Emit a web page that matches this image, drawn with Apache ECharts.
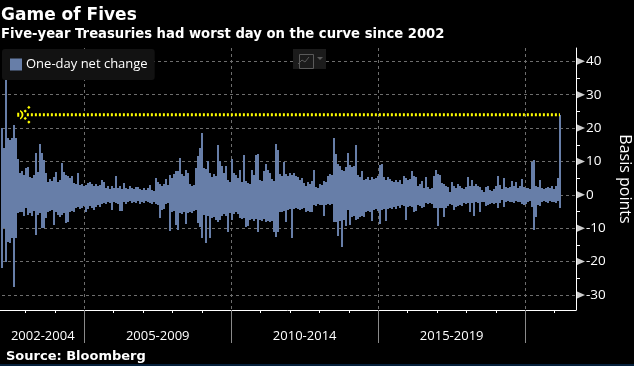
<!DOCTYPE html>
<html>
<head>
<meta charset="utf-8">
<style>html,body{margin:0;padding:0;background:#000}#c{width:634px;height:366px}</style>
<script src="https://cdn.jsdelivr.net/npm/echarts@6/dist/echarts.min.js"></script>
</head>
<body>
<div id="c"></div>
<script>
const titleText = "Game of Fives";
const subtitleText = "Five-year Treasuries had worst day on the curve since 2002";
const sourceText = "Source: Bloomberg";
const seriesName = "One-day net change";
const axisName = "Basis points";
const periodLabels = ["2002-2004", "2005-2009", "2010-2014", "2015-2019"];
const periodCentres = [2003.59, 2007.5, 2012.5, 2017.5];
const periodBreaks = [2005, 2010, 2015, 2020];
const yearTicks = [2003,2004,2006,2007,2008,2009,2011,2012,2013,2014,2016,2017,2018,2019,2021];
const majorY = [-30,-20,-10,0,10,20,30,40];
const minorY = [-25,-15,-5,5,15,25,35];
const worstDay = 24;

// Highest and lowest daily change inside each narrow slice of time
const highs = [
20,14,34.3,17,16.5,17,21,17,10.7,6.5,
7,6,8,8.2,5.4,5,5.8,12.5,6.9,15.2,
12.5,10.5,6.6,4,4.8,4.2,5.2,6.8,3.8,4.4,
9.5,6.8,5.8,5.5,5,5.6,3.5,3.2,6.5,3,
3.4,2.6,3,3.6,4,3.2,2.8,3.3,2.6,3,
4.5,3.8,2,2.6,1.8,2.7,2.2,5.5,2,2.6,
1.8,3.5,2.2,1.8,2.6,2.1,1.7,2.5,2.3,1.8,
1.6,2.2,1.5,2.1,3,1.5,1.2,5,4,3.4,
2.8,3.2,4.8,3,6,5,6.2,7.2,7,11,
6.2,5.6,7.5,6.5,3.2,2.6,3,8,11.5,14,
18.5,8,7.6,10,6.4,5.4,6.2,5.6,15,10,
8.5,6.5,8.7,4.5,4,10.8,6.5,6,5,7.5,
4,12,4.2,3.5,3.2,7.5,6,12,12.2,4.5,
4.2,7,9.2,7.5,6.5,4.8,4.2,15.3,13.5,6.2,
5.6,9.7,6.2,5.6,6.4,5.8,6.6,5.6,5.2,4.6,
5,3.5,2.8,3.8,3.2,4.2,7.5,2.5,2,3.4,
3,4.2,3.8,5.5,6.2,5.8,17,12.2,9.2,8.6,
7.4,7,8.2,12.5,8.8,8.2,8.6,15,5.8,5.2,
7,4.4,4.8,5.2,4.6,5.4,4.8,5,5.6,9,
9.2,5.2,4.6,5.4,4.8,4.2,3.8,4.4,3.8,4.6,
3.2,5.5,4.9,4.4,4.8,7,5.6,5.2,2.8,3.2,
4.2,2,5.2,2.4,1.8,2.2,5.5,7.5,6.2,6,
3.6,3.2,2.6,2.3,1,3.8,2.6,2.2,3.2,2.8,
2.2,1.8,2.4,5.2,2.7,4.5,2.8,3.2,2.6,2.3,
1.4,1,2.3,2.6,1.6,1.3,1.8,2.7,5.5,3,
1.7,5,2.5,2,2.4,4.2,2.7,4,2.2,2.6,
4.7,2.5,2,2.2,1.8,9.7,10.3,2.7,2.4,4.5,
2.2,1.8,2.1,2.5,2.2,2.7,1.8,2.7,5,24
];
const lows = [
-22,-10,-20,-14,-14.5,-13,-27.5,-13,-5.5,-5,
-5,-6.2,-4,-6,-5.5,-6.2,-4.8,-12,-6,-5.4,
-10,-10,-7,-5.2,-4.8,-4.5,-9,-5,-6,-6.5,
-6,-5.5,-8.5,-8.2,-5.2,-4.8,-5.2,-4,-3.5,-4.2,
-4,-3.4,-5,-4.2,-3.4,-4,-4.5,-3.6,-3,-3.5,
-2.6,-2.3,-2.7,-2,-2.5,-4.5,-2,-2.3,-2.6,-4.8,
-4.8,-2,-2.6,-2.1,-1.9,-2.5,-2,-2.3,-1.9,-2.6,
-2,-2.3,-1.8,-2.1,-2.3,-2.6,-2.2,-2.7,-3,-6.8,
-4.5,-4.3,-2.6,-2.4,-10.7,-5.2,-4.8,-9,-10.5,-5.5,
-5.8,-5.2,-8.8,-5.4,-5,-5.5,-4.8,-4.6,-8.5,-9.5,
-13,-6,-14.5,-6.2,-13,-7,-6.6,-7.4,-8,-7.6,
-6.2,-5.8,-6.2,-11,-5.5,-7.5,-5.7,-5.2,-5.7,-7,
-7.2,-6.8,-9.5,-9.2,-7.6,-7.2,-7.8,-7.2,-11,-7.5,
-7.8,-7.2,-8.2,-7.8,-8.2,-7.8,-11,-12.5,-11,-5,
-5.2,-4.8,-8,-4.6,-4.2,-12.8,-4.2,-3.8,-4.2,-4.5,
-4.2,-4,-5.1,-4.8,-5.2,-5.2,-3,-3.3,-2.8,-3.1,
-3,-6.2,-2.9,-2.6,-3,-2.7,-8.2,-8,-12.2,-7.8,
-15.5,-7.5,-9.2,-4.5,-9,-6.5,-6.2,-7.5,-7.2,-6.6,
-6.2,-6.6,-5,-4.8,-5.2,-7.8,-4.5,-4.2,-4.7,-8.6,
-4.5,-4.2,-7.8,-4.2,-3.8,-4.2,-3.5,-4.1,-3.4,-4,
-3,-3.2,-7.5,-3.6,-3.3,-3.7,-5,-4.8,-3,-3.2,
-3.8,-3.5,-2.5,-2.7,-2.3,-2.6,-4,-3.8,-9.2,-4,
-4,-6.5,-4,-3.2,-2.8,-3.1,-4.5,-3.5,-3.3,-3,
-3.2,-2.5,-2.7,-2.4,-5,-2.5,-6.2,-2.2,-2.4,-5,
-2.2,-2,-3.2,-3,-2.6,-2.3,-2.7,-2.4,-3.8,-2.5,
-1.5,-3.5,-2.1,-1.9,-2.2,-2,-2.3,-1.8,-2.1,-2,
-2.7,-2.9,-2.6,-2.1,-1.9,-3.5,-10.4,-6.5,-3,-3.2,
-2.2,-1.8,-2.1,-2.3,-1.9,-2.2,-2,-2.3,-1.9,-4
];

const xMin = 2002, xMax = 2021.728, yMin = -34.5, yMax = 44;
const firstYear = 2002.204, yearsPerSlice = 0.06803;
const sliceYear = i => firstYear + i * yearsPerSlice;
const lastYear = sliceYear(highs.length - 1);
const blue = '#677ea8', yellow = '#ffff00', white = '#ffffff';
const bodyFont = '"Open Sans", sans-serif', headFont = '"DejaVu Sans", sans-serif';
const arrowHead = 'path://M52 38H58V50H52Z M61 30C74 36 74 52 61 58L60 54C67 50 67 38 60 34Z M71 33L76 28L81 33L76 38Z M82 22L87 17L92 22L87 27Z M71 55L76 50L81 55L76 60Z M82 66L87 61L92 66L87 71Z';

const chart = echarts.init(document.getElementById('c'), null, {renderer: 'canvas'});
chart.setOption({
  backgroundColor: '#000',
  animation: false,
  title: [
    {text: sourceText, left: 6, top: 350, padding: 0, textStyle: {color: white, fontFamily: headFont, fontWeight: 'bold', fontSize: 13}}
  ],
  legend: {
    left: 2, top: 49, padding: [9, 7, 9, 8], backgroundColor: '#121212', borderRadius: 3,
    data: [seriesName], icon: 'rect', itemWidth: 12, itemHeight: 12, itemGap: 0,
    textStyle: {color: white, fontFamily: bodyFont, fontSize: 13, padding: [2, 0, 0, -1]}
  },
  grid: {left: -4, right: 58, top: 48, bottom: 56, containLabel: false, outerBoundsMode: 'none'},
  xAxis: [
    {type: 'value', min: xMin, max: xMax, position: 'bottom',
     axisLine: {show: true, onZero: false, lineStyle: {color: white, width: 1}},
     axisTick: {show: true, customValues: yearTicks, length: 3, lineStyle: {color: white, width: 1}},
     axisLabel: {show: false}, splitLine: {show: false}},
    {type: 'value', min: xMin, max: xMax, position: 'bottom',
     axisLine: {show: false, onZero: false},
     axisTick: {show: true, customValues: periodBreaks, length: 33, lineStyle: {color: '#8a8a8a', width: 1}},
     axisLabel: {show: true, customValues: periodCentres, margin: 20, color: white, fontFamily: bodyFont, fontSize: 13,
       formatter: v => periodLabels[periodCentres.indexOf(v)], hideOverlap: false},
     splitLine: {show: true, lineStyle: {color: '#6e6e6e', type: [3, 3], width: 1}}}
  ],
  yAxis: [
    {type: 'value', min: yMin, max: yMax, position: 'right', name: axisName, nameLocation: 'middle', nameRotate: -90, nameGap: 34,
     nameTextStyle: {color: white, fontFamily: bodyFont, fontSize: 16},
     axisLine: {show: true, onZero: false, lineStyle: {color: white, width: 1}},
     axisTick: {show: false, customValues: majorY},
     axisLabel: {show: true, customValues: majorY, margin: 10, color: white, fontFamily: bodyFont, fontSize: 13.5, align: 'left'},
     splitLine: {show: true, lineStyle: {color: '#6e6e6e', type: [3, 3], width: 1}}},
    {type: 'value', min: yMin, max: yMax, position: 'right',
     axisLine: {show: false, onZero: false},
     axisTick: {show: true, customValues: minorY, length: 4, lineStyle: {color: white, width: 1}},
     axisLabel: {show: false}, splitLine: {show: false}}
  ],
  series: [
    {name: seriesName, type: 'custom', xAxisIndex: 0, yAxisIndex: 0, silent: true, z: 2,
     itemStyle: {color: blue},
     encode: {x: 0, y: [1, 2]},
     data: highs.map((h, i) => [sliceYear(i), lows[i], h]),
     renderItem: (params, api) => {
       const top = api.coord([api.value(0), api.value(2)]);
       const bottom = api.coord([api.value(0), api.value(1)]);
       return {type: 'rect', shape: {x: Math.round(top[0]) - 1, y: Math.round(top[1]), width: 2, height: Math.round(bottom[1]) - Math.round(top[1])},
               style: {fill: blue}};
     }},
    {type: 'line', data: [[2003.05, worstDay], [lastYear, worstDay]], xAxisIndex: 0, yAxisIndex: 0,
     showSymbol: true, silent: true, z: 5,
     symbol: (v, p) => p.dataIndex === 0 ? arrowHead : 'none', symbolSize: [13.3, 18], symbolOffset: [-3, 0], symbolKeepAspect: false,
     itemStyle: {color: yellow, opacity: 1},
     lineStyle: {color: yellow, width: 3, type: [2, 2]}},
    {type: 'scatter', data: majorY.map(v => [xMax, v]), xAxisIndex: 0, yAxisIndex: 0, clip: false, silent: true, z: 6,
     symbol: 'triangle', symbolSize: [8, 9], symbolRotate: -90, symbolOffset: [4.5, 0], itemStyle: {color: white}}
  ],
  graphic: [
    {type: 'text', left: 1, top: 7, z: 20, style: {text: titleText, fill: white, font: 'bold 17px "DejaVu Sans", sans-serif'}},
    {type: 'text', left: 1, top: 28, z: 20, style: {text: subtitleText, fill: white, font: 'bold 13.2px "DejaVu Sans", sans-serif'}},
    {type: 'rect', left: 0, top: 364, shape: {width: 634, height: 2}, style: {fill: '#05203c'}},
    {type: 'rect', left: 293, top: 49, z: 10, shape: {width: 33, height: 20}, style: {fill: '#1b1b1b'}},
    {type: 'rect', left: 297, top: 52, z: 11, shape: {width: 14, height: 14}, style: {fill: 'none', stroke: '#5a5a5a', lineWidth: 1}},
    {type: 'polyline', z: 11, shape: {points: [[298, 64], [302, 60], [305, 62], [309, 57]]}, style: {fill: 'none', stroke: '#5a5a5a', lineWidth: 1}},
    {type: 'polygon', z: 11, shape: {points: [[317, 57], [323, 57], [320, 60]]}, style: {fill: '#5a5a5a'}}
  ]
});
</script>
</body>
</html>
